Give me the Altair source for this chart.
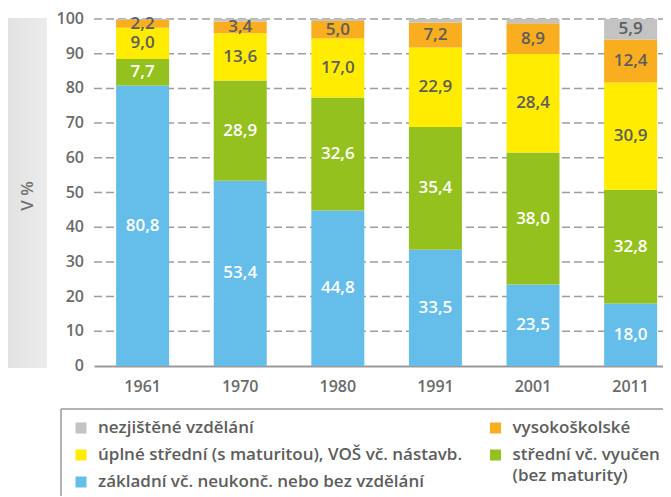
import altair as alt
import pandas as pd

years = ["1961", "1970", "1980", "1991", "2001", "2011"]
zakladni = [80.8, 53.4, 44.8, 33.5, 23.5, 18.0]
stredni_vyucen = [7.7, 28.9, 32.6, 35.4, 38.0, 32.8]
uplne_stredni = [9.0, 13.6, 17.0, 22.9, 28.4, 30.9]
vysokoskolske = [2.2, 3.4, 5.0, 7.2, 8.9, 12.4]
nezjistene = [0.3, 0.7, 0.6, 1.0, 1.2, 5.9]
y_ticks = [0, 10, 20, 30, 40, 50, 60, 70, 80, 90, 100]

categories = [
    "základní vč. neukonč. nebo bez vzdělání",
    "střední vč. vyučen\n(bez maturity)",
    "úplné střední (s maturitou), VOŠ vč. nástavb.",
    "vysokoškolské",
    "nezjištěné vzdělání",
]
series = [zakladni, stredni_vyucen, uplne_stredni, vysokoskolske, nezjistene]
colors = ["#65bde9", "#95c11f", "#ffec00", "#f8ae1f", "#c3c3c3"]
label_colors = ["#ffffff", "#ffffff", "#5d5d5d", "#5d5d5d", "#5d5d5d"]

# legend layout (column, row) for each category
legend_col = [0, 1, 0, 1, 0]
legend_row = [2, 1, 1, 0, 0]

rows = []
for i, yr in enumerate(years):
    cum = 0.0
    for k, cat in enumerate(categories):
        v = series[k][i]
        rows.append(dict(year=yr, cat=cat, order=k, value=v, start=cum, end=cum + v,
                         mid=cum + v / 2, label=f"{v:.1f}".replace(".", ","),
                         lc=label_colors[k], show=v >= 2))
        cum += v
df = pd.DataFrame(rows)
leg = pd.DataFrame(dict(cat=categories, col=legend_col, row=legend_row))
ticks = pd.DataFrame(dict(tick=y_ticks, txt=[str(t) for t in y_ticks]))

W, H = 569, 347
FONT = "Open Sans"
GREY = "#6a6a6a"

xscale = alt.Scale(paddingInner=0.457, paddingOuter=0.1435, align=0.79)
yscale = alt.Scale(domain=[0, 100])
cscale = alt.Scale(domain=categories, range=colors)

xaxis = alt.Axis(labelAngle=0, ticks=False, domainColor="#9a9a9a", domainWidth=2,
                 labelFontSize=16, labelColor=GREY, labelFont=FONT,
                 labelFontWeight=600, labelPadding=12, grid=False)

grid = alt.Chart(ticks).transform_filter("datum.tick > 0").mark_rule(
    strokeDash=[8, 4], color="#9d9d9d", strokeWidth=1.5
).encode(
    y=alt.Y("tick:Q", scale=yscale, axis=None),
    x=alt.value(0), x2=alt.value(W),
)
ticklabels = alt.Chart(ticks).mark_text(
    align="right", baseline="middle", fontSize=16, font=FONT, fontWeight=600, color=GREY
).encode(
    y=alt.Y("tick:Q", scale=yscale, axis=None),
    x=alt.value(-10),
    text="txt:N",
)

bars = alt.Chart(df).mark_bar().encode(
    x=alt.X("year:N", scale=xscale, sort=years, title=None, axis=xaxis),
    y=alt.Y("start:Q", scale=yscale, title=None, axis=None),
    y2="end:Q",
    color=alt.Color("cat:N", scale=cscale, legend=None),
    order=alt.Order("order:Q"),
)

labels = alt.Chart(df).transform_filter("datum.show").mark_text(
    fontSize=17, font=FONT, fontWeight=600, baseline="middle"
).encode(
    x=alt.X("year:N", scale=xscale, sort=years, title=None, axis=xaxis),
    y=alt.Y("mid:Q", scale=yscale, title=None, axis=None),
    text="label:N",
    color=alt.Color("lc:N", scale=None),
)

band = alt.Chart(alt.Data(values=[{}])).mark_rect(
    fill=alt.Gradient(gradient="linear", stops=[alt.GradientStop(color="#e2e2e2", offset=0),
                                                 alt.GradientStop(color="#ececec", offset=1)],
                      x1=0, x2=1, y1=0, y2=0)
).encode(x=alt.value(-86), x2=alt.value(-47), y=alt.value(-1), y2=alt.value(H + 2))

ytitle = alt.Chart(alt.Data(values=[{}])).mark_text(
    angle=270, fontSize=17, font=FONT, fontWeight=600, color="#707070", baseline="middle"
).encode(x=alt.value(-66), y=alt.value(177), text=alt.value("V %"))

main = alt.layer(band, ytitle, grid, ticklabels, bars, labels)

lx = alt.Scale(domain=[0, 1], range=[-13, 401.5])
ly = alt.Scale(domain=[0, 2], range=[409, 463])

leg_sq = alt.Chart(leg).mark_square(size=121, opacity=1).encode(
    x=alt.X("col:Q", scale=lx, axis=None),
    y=alt.Y("row:Q", scale=ly, axis=None),
    color=alt.Color("cat:N", scale=cscale, legend=None),
)
leg_tx = alt.Chart(leg).mark_text(
    align="left", baseline="top", dx=17, dy=-8, fontSize=17, font=FONT, fontWeight=600,
    color="#5d5d5d", lineBreak="\n", lineHeight=21
).encode(
    x=alt.X("col:Q", scale=lx, axis=None),
    y=alt.Y("row:Q", scale=ly, axis=None),
    text="cat:N",
)

border = alt.Chart(alt.Data(values=[{}])).mark_rule(color="#9a9a9a", strokeWidth=1.5).encode(
    x=alt.value(-33), x2=alt.value(W + 20), y=alt.value(390)
)
border2 = alt.Chart(alt.Data(values=[{}])).mark_rule(color="#9a9a9a", strokeWidth=1.5).encode(
    x=alt.value(-33), y=alt.value(390), y2=alt.value(H + 200)
)

chart = alt.layer(main, leg_sq, leg_tx, border, border2).resolve_scale(
    x="independent", y="independent", color="independent"
).properties(
    width=W, height=H,
    autosize=alt.AutoSizeParams(type="none"),
    padding={"left": 86, "top": 11, "right": 0, "bottom": 130},
).configure_view(stroke=None)

chart.save("out.html", embed_options={"renderer": "svg", "actions": False})
